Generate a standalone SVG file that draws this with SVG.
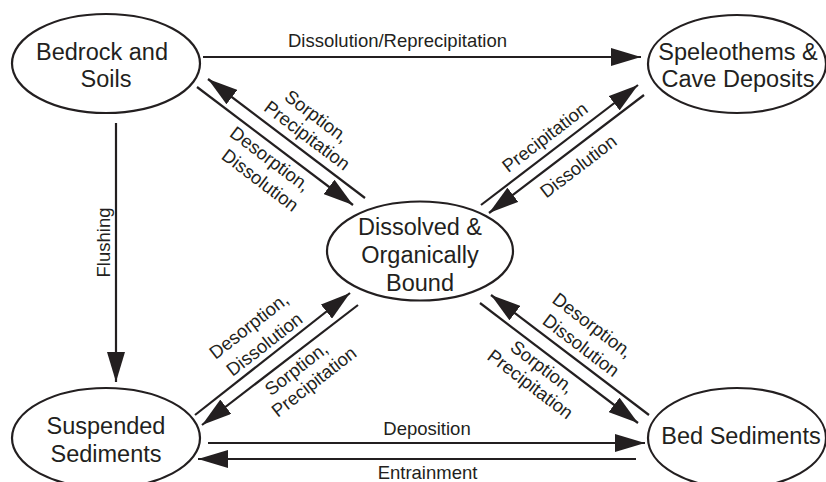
<svg xmlns="http://www.w3.org/2000/svg" width="826" height="482" viewBox="0 0 826 482">
<style>
.node ellipse{fill:#fff;stroke:#231f20;stroke-width:2.2}
.nt{font-family:"Liberation Sans",Arial,sans-serif;font-size:23.5px;fill:#231f20;text-anchor:middle}
.lt{font-family:"Liberation Sans",Arial,sans-serif;font-size:18.5px;fill:#231f20;text-anchor:middle}
.cn{stroke:#231f20;stroke-width:2.2;fill:none;marker-end:url(#ah)}
</style>
<defs>
<marker id="ah" markerUnits="userSpaceOnUse" viewBox="0 0 30 18" refX="30" refY="9" markerWidth="30" markerHeight="18" orient="auto">
<path d="M0,0 L30,9 L0,18 Z" fill="#231f20"/>
</marker>
</defs>
<rect width="826" height="482" fill="#fff"/>
<g id="connectors">
<line class="cn" x1="203" y1="57" x2="641" y2="57"/>
<line class="cn" x1="116" y1="123" x2="116" y2="382"/>
<line class="cn" x1="208" y1="443" x2="645" y2="443"/>
<line class="cn" x1="636" y1="459" x2="198" y2="459"/>
<line class="cn" x1="365" y1="198" x2="208" y2="79"/>
<line class="cn" x1="197" y1="87" x2="353" y2="205"/>
<line class="cn" x1="481" y1="205" x2="638" y2="85"/>
<line class="cn" x1="644" y1="95" x2="489" y2="213"/>
<line class="cn" x1="195" y1="415" x2="350" y2="293"/>
<line class="cn" x1="358" y1="305" x2="202" y2="425"/>
<line class="cn" x1="649" y1="415" x2="491" y2="295"/>
<line class="cn" x1="480" y1="303" x2="638" y2="423"/>
<text class="lt" x="397.5" y="47">Dissolution/Reprecipitation</text>
<text class="lt" x="427" y="435">Deposition</text>
<text class="lt" x="427.5" y="478.5">Entrainment</text>
<text class="lt" transform="translate(109.5,242.5) rotate(-90)">Flushing</text>
<g transform="translate(280.75,142.25) rotate(37)">
<text class="lt" x="13" y="-36">Sorption,</text>
<text class="lt" x="17" y="-15">Precipitation</text>
<text class="lt" x="1.5" y="26">Desorption,</text>
<text class="lt" x="6.5" y="49">Dissolution</text>
</g>
<g transform="translate(563,149.5) rotate(-37.4)">
<text class="lt" x="-7" y="-14.5">Precipitation</text>
<text class="lt" x="2" y="29">Dissolution</text>
</g>
<g transform="translate(276.25,359.5) rotate(-38)">
<text class="lt" x="-1" y="-37">Desorption,</text>
<text class="lt" x="0" y="-13">Dissolution</text>
<text class="lt" x="10" y="26">Sorption,</text>
<text class="lt" x="16" y="47">Precipitation</text>
</g>
<g transform="translate(564.5,359) rotate(37.2)">
<text class="lt" x="2" y="-37.5">Desorption,</text>
<text class="lt" x="5" y="-14.5">Dissolution</text>
<text class="lt" x="-13" y="26">Sorption,</text>
<text class="lt" x="-12" y="47">Precipitation</text>
</g>
</g>
<g id="bedrock" class="node">
<ellipse cx="106" cy="63.5" rx="94" ry="49.5"/>
<text class="nt" x="102" y="60">Bedrock and</text>
<text class="nt" x="106" y="87">Soils</text>
</g>
<g id="speleothems" class="node">
<ellipse cx="737" cy="64" rx="89" ry="49"/>
<text class="nt" x="738" y="60">Speleothems &amp;</text>
<text class="nt" x="738" y="87">Cave Deposits</text>
</g>
<g id="dissolved" class="node">
<ellipse cx="420" cy="251" rx="93" ry="49.5"/>
<text class="nt" x="420" y="235">Dissolved &amp;</text>
<text class="nt" x="420" y="263">Organically</text>
<text class="nt" x="420" y="291">Bound</text>
</g>
<g id="suspended" class="node">
<ellipse cx="106" cy="438" rx="94" ry="50"/>
<text class="nt" x="106" y="434">Suspended</text>
<text class="nt" x="106" y="462">Sediments</text>
</g>
<g id="bed" class="node">
<ellipse cx="737" cy="438" rx="89" ry="50"/>
<text class="nt" x="741" y="444">Bed Sediments</text>
</g>
</svg>
